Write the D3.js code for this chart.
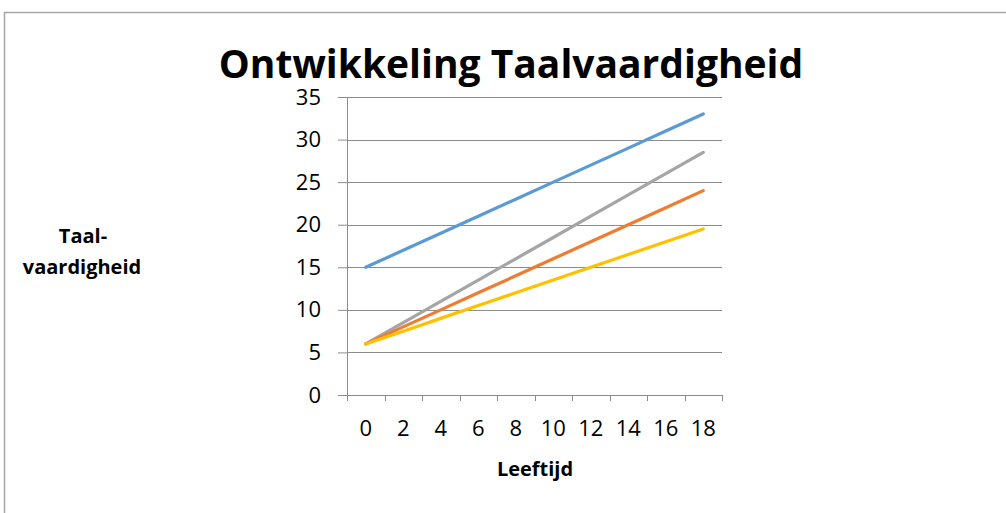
<!DOCTYPE html>
<html>
<head>
<meta charset="utf-8">
<script src="https://cdn.jsdelivr.net/npm/d3@7"></script>
<style>
  body { margin: 0; background: #fff; }
  text { font-family: "Open Sans", "Noto Sans", sans-serif; }
</style>
</head>
<body>
<div id="vis"></div>
<script>
var ages = ["0", "2", "4", "6", "8", "10", "12", "14", "16", "18"];
var blueSeries = [15, 17, 19, 21, 23, 25, 27, 29, 31, 33];
var orangeSeries = [6, 8, 10, 12, 14, 16, 18, 20, 22, 24];
var graySeries = [6, 8.5, 11, 13.5, 16, 18.5, 21, 23.5, 26, 28.5];
var yellowSeries = [6, 7.5, 9, 10.5, 12, 13.5, 15, 16.5, 18, 19.5];
var yTicks = [0, 5, 10, 15, 20, 25, 30, 35];

var series = [
  {name: "blauw", values: blueSeries, color: "#5b9bd5"},
  {name: "grijs", values: graySeries, color: "#a5a5a5"},
  {name: "oranje", values: orangeSeries, color: "#ed7d31"},
  {name: "geel", values: yellowSeries, color: "#ffc000"}
];

var W = 1006, H = 513;
var margin = {top: 97, right: 284, bottom: 118, left: 347},
    width = W - margin.left - margin.right,
    height = H - margin.top - margin.bottom;

var svg = d3.select("#vis").append("svg")
    .attr("width", W)
    .attr("height", H);

// chart frame
svg.append("rect")
    .attr("x", 4.5).attr("y", 12.5)
    .attr("width", W + 10).attr("height", H + 10)
    .attr("fill", "#fff")
    .attr("stroke", "#a6a6a6")
    .attr("stroke-width", 1.5);

var x = d3.scaleBand().domain(ages).range([0, width]);
var y = d3.scaleLinear().domain([0, 35]).range([height, 0]);

var g = svg.append("g")
    .attr("transform", "translate(" + margin.left + "," + margin.top + ")");

// gridlines
g.append("g")
    .selectAll("line")
    .data(yTicks.filter(function(d) { return d > 0; }))
    .enter().append("line")
    .attr("x1", 0).attr("x2", width)
    .attr("y1", function(d) { return Math.round(y(d)) + 0.5; })
    .attr("y2", function(d) { return Math.round(y(d)) + 0.5; })
    .attr("stroke", "#8c8c8c")
    .attr("stroke-width", 1);

// y axis
var yAxis = g.append("g")
    .call(d3.axisLeft(y).tickValues(yTicks).tickSize(9).tickPadding(17));
yAxis.selectAll("text")
    .attr("font-size", "22px")
    .attr("fill", "#000");

// x axis: ticks between categories
var xAxis = g.append("g")
    .attr("transform", "translate(0," + height + ")")
    .call(d3.axisBottom(x).tickSize(0).tickPadding(25));
xAxis.selectAll("text")
    .attr("font-size", "22px")
    .attr("fill", "#000");
xAxis.selectAll(".band-tick")
    .data(d3.range(ages.length + 1))
    .enter().append("line")
    .attr("class", "band-tick")
    .attr("x1", function(i) { return Math.round(i * x.step()) + 0.5; })
    .attr("x2", function(i) { return Math.round(i * x.step()) + 0.5; })
    .attr("y1", 0).attr("y2", 6)
    .attr("stroke", "#8c8c8c");

g.selectAll(".domain").attr("stroke", "#8c8c8c");
g.selectAll(".tick line").attr("stroke", "#8c8c8c");

// lines
var line = d3.line()
    .x(function(d, i) { return x(ages[i]) + x.bandwidth() / 2; })
    .y(function(d) { return y(d); });

g.selectAll(".serie")
    .data(series)
    .enter().append("path")
    .attr("class", "serie")
    .attr("d", function(d) { return line(d.values); })
    .attr("fill", "none")
    .attr("stroke", function(d) { return d.color; })
    .attr("stroke-width", 3.2)
    .attr("stroke-linecap", "round")
    .attr("stroke-linejoin", "round");

// titles
svg.append("text")
    .attr("x", 511).attr("y", 78)
    .attr("text-anchor", "middle")
    .attr("font-size", "39px")
    .attr("font-weight", "bold")
    .attr("fill", "#000")
    .text("Ontwikkeling Taalvaardigheid");

svg.append("text")
    .attr("x", 535).attr("y", 476)
    .attr("text-anchor", "middle")
    .attr("font-size", "20px")
    .attr("font-weight", "bold")
    .text("Leeftijd");

var yt = svg.append("text")
    .attr("text-anchor", "middle")
    .attr("font-size", "20px")
    .attr("font-weight", "bold");
yt.append("tspan").attr("x", 83).attr("y", 243).text("Taal-");
yt.append("tspan").attr("x", 82).attr("y", 274).text("vaardigheid");
</script>
</body>
</html>
